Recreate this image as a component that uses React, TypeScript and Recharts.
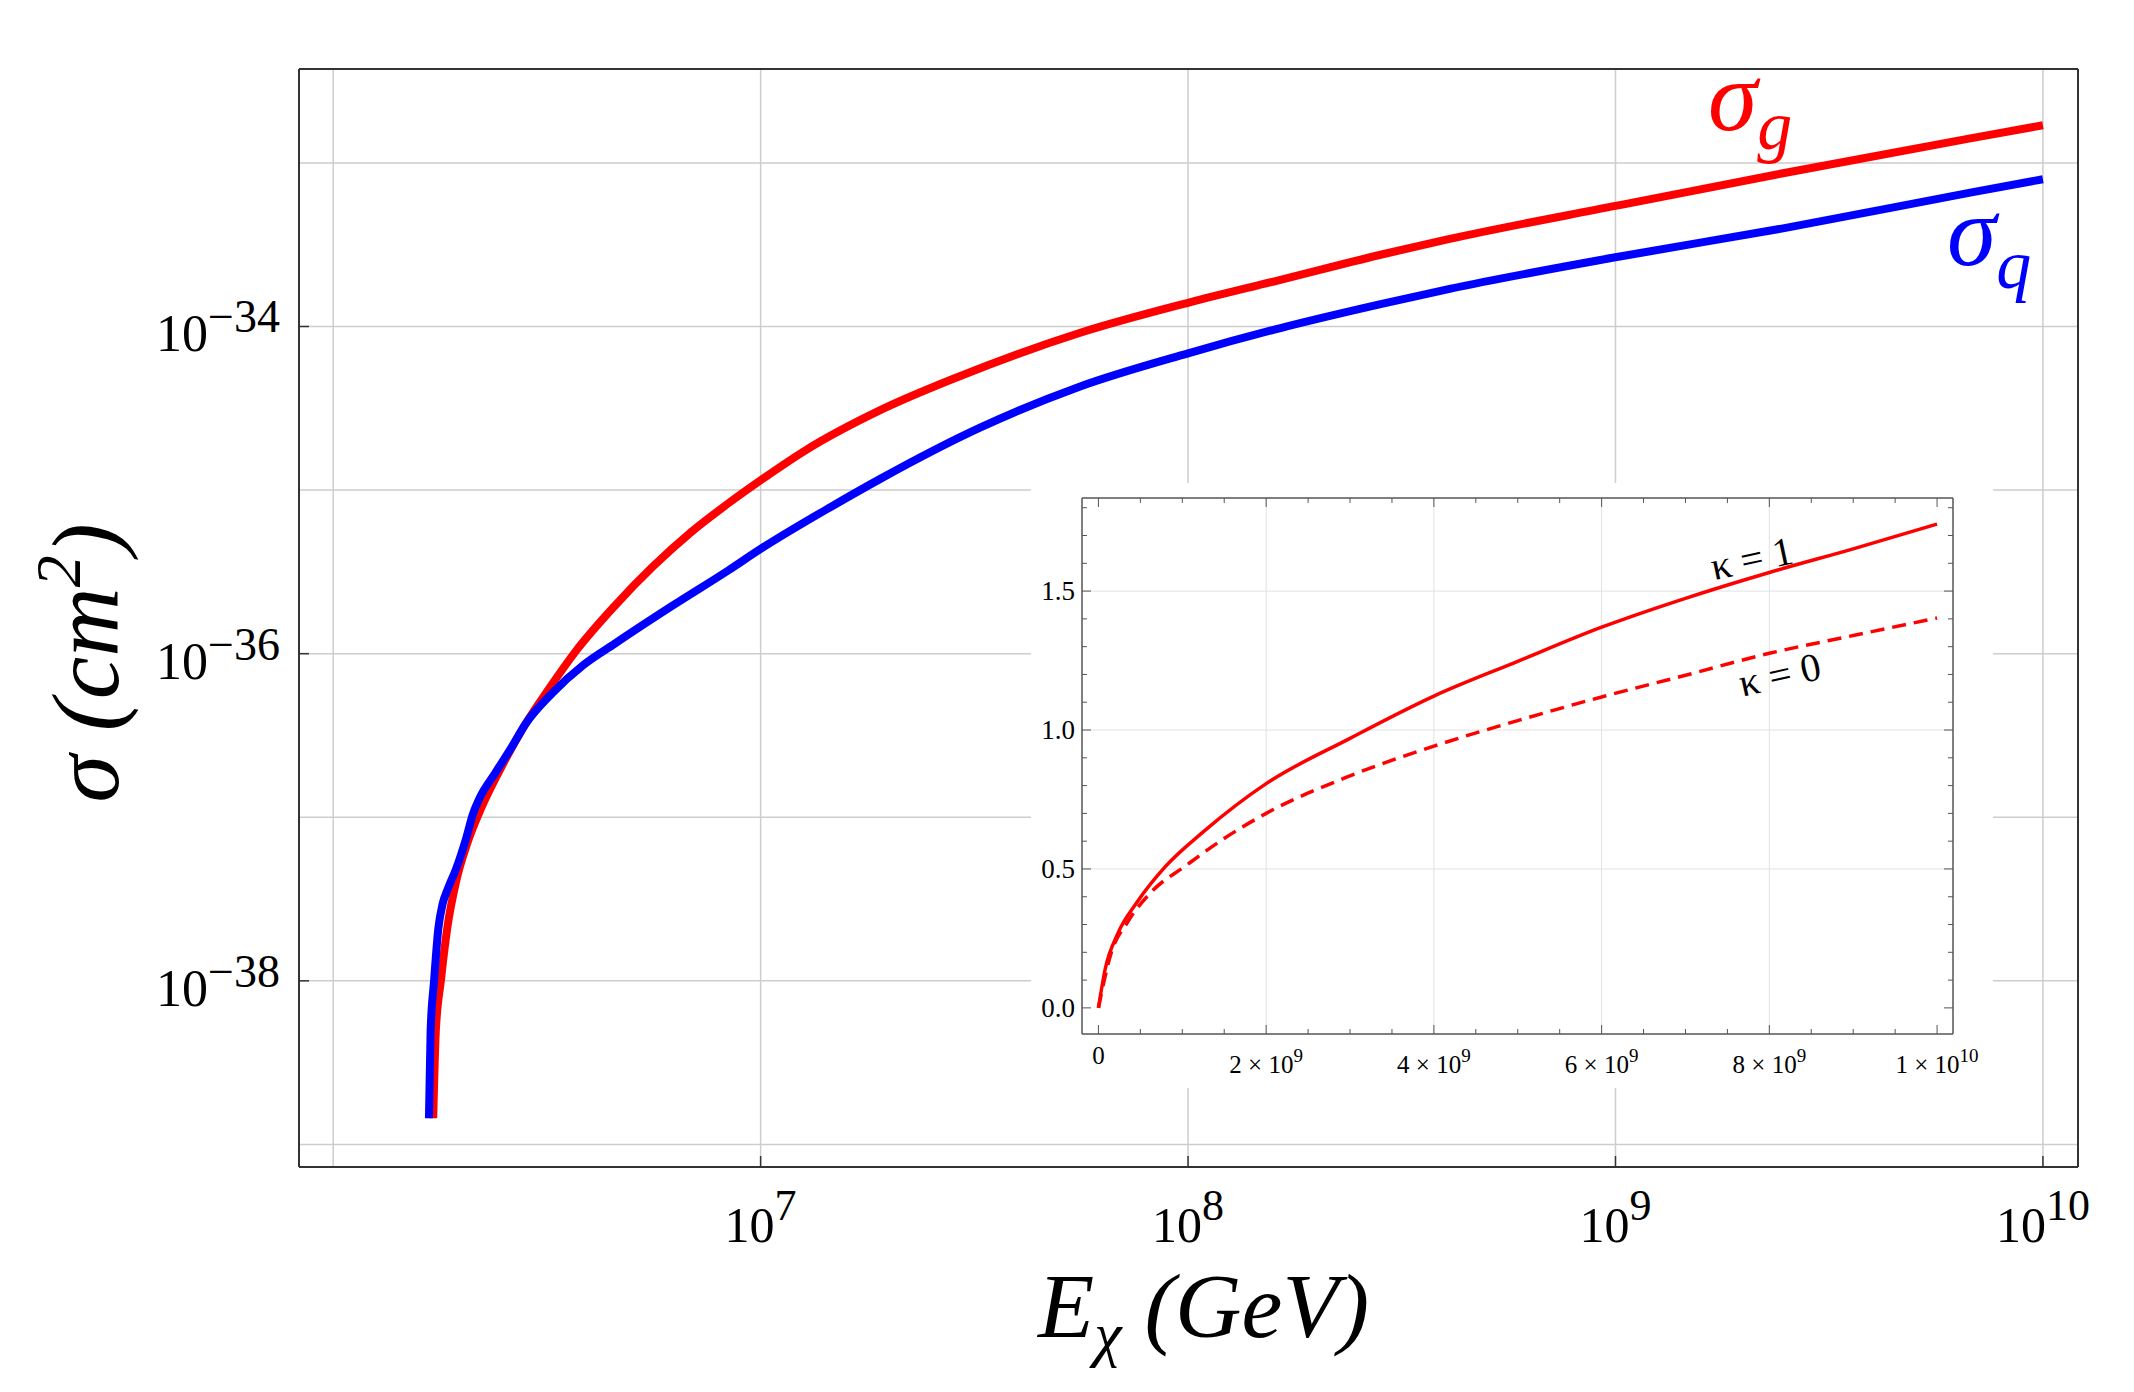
import React from "react";
import { LineChart, Line, XAxis, YAxis, CartesianGrid } from "recharts";

// main panel: sigma(E) for gluon and quark channels, log-log
const gluonE = [
  1.714e6, 1.738e6, 1.786e6, 1.853e6, 1.936e6, 2.065e6, 2.223e6, 2.495e6, 2.818e6, 3.206e6,
  3.707e6, 4.55e6, 5.585e6, 6.855e6, 8.414e6, 1.0e7, 1.268e7, 1.91e7, 2.884e7, 5.572e7,
  1.0e8, 1.637e8, 2.805e8, 4.093e8, 1.0e9, 2.466e9, 6.761e9, 1.0e10,
];
const gluonSigma = [
  1.445e-39, 4.898e-39, 1.0e-38, 2.188e-38, 3.981e-38, 7.079e-38, 1.148e-37, 2.113e-37, 3.715e-37, 6.166e-37,
  1.047e-36, 1.95e-36, 3.388e-36, 5.495e-36, 8.318e-36, 1.148e-35, 1.738e-35, 3.09e-35, 4.898e-35, 9.12e-35,
  1.396e-34, 1.923e-34, 2.735e-34, 3.428e-34, 5.458e-34, 8.65e-34, 1.413e-33, 1.698e-33,
];
const quarkE = [
  1.675e6, 1.69e6, 1.722e6, 1.762e6, 1.803e6, 1.853e6, 1.936e6, 2.046e6, 2.123e6, 2.203e6,
  2.393e6, 2.618e6, 2.818e6, 3.258e6, 3.846e6, 4.55e6, 6.194e6, 8.414e6, 1.0e7, 1.466e7,
  1.91e7, 3.251e7, 5.572e7, 1.0e8, 1.637e8, 2.805e8, 4.093e8, 1.0e9, 2.466e9, 6.761e9, 1.0e10,
];
const quarkSigma = [
  1.445e-39, 4.898e-39, 1.0e-38, 2.089e-38, 2.951e-38, 3.631e-38, 4.786e-38, 7.413e-38, 1.047e-37, 1.318e-37,
  1.862e-37, 2.692e-37, 3.715e-37, 5.754e-37, 8.511e-37, 1.148e-36, 1.95e-36, 3.236e-36, 4.365e-36, 7.943e-36,
  1.175e-35, 2.399e-35, 4.285e-35, 6.855e-35, 9.75e-35, 1.365e-34, 1.698e-34, 2.649e-34, 3.981e-34, 6.577e-34, 7.943e-34,
];

const energyTicks = [1e7, 1e8, 1e9, 1e10];
const energyTickExp = ["7", "8", "9", "10"];
const energyGrid = [1e6, 1e7, 1e8, 1e9, 1e10];
const sigmaTicks = [1e-38, 1e-36, 1e-34];
const sigmaTickExp = ["\u221238", "\u221236", "\u221234"];
const sigmaGrid = [1e-39, 1e-38, 1e-37, 1e-36, 1e-35, 1e-34, 1e-33];
const energyDomain = [8.318e5, 1.208e10];
const sigmaDomain = [7.278e-40, 3.75e-33];

// inset: kappa = 1 (solid) and kappa = 0 (dashed), linear axes
const kappa1E = [0, 8e7, 2.3e8, 4.6e8, 8e8, 1.26e9, 2e9, 3e9, 4e9, 5e9, 6e9, 7e9, 8e9, 9e9, 1e10];
const kappa1R = [0, 0.139, 0.267, 0.38, 0.509, 0.636, 0.807, 0.97, 1.122, 1.247, 1.37, 1.474, 1.567, 1.652, 1.741];
const kappa0E = [0, 1.5e8, 3.5e8, 6.5e8, 1.03e9, 1.49e9, 2e9, 3e9, 4e9, 5e9, 6e9, 7e9, 8e9, 9e9, 1e10];
const kappa0R = [0, 0.196, 0.31, 0.423, 0.509, 0.608, 0.7, 0.835, 0.942, 1.034, 1.119, 1.197, 1.276, 1.34, 1.403];

const insetXMajor = [0, 2e9, 4e9, 6e9, 8e9, 1e10];
const insetXLabels = [["0", ""], ["2 \u00d7 10", "9"], ["4 \u00d7 10", "9"], ["6 \u00d7 10", "9"], ["8 \u00d7 10", "9"], ["1 \u00d7 10", "10"]];
const insetXMinor = [5e8, 1e9, 1.5e9, 2.5e9, 3e9, 3.5e9, 4.5e9, 5e9, 5.5e9, 6.5e9, 7e9, 7.5e9, 8.5e9, 9e9, 9.5e9];
const insetYMajor = [0, 0.5, 1.0, 1.5];
const insetYLabels = ["0.0", "0.5", "1.0", "1.5"];
const insetYMinor = [0.1, 0.2, 0.3, 0.4, 0.6, 0.7, 0.8, 0.9, 1.1, 1.2, 1.3, 1.4, 1.6, 1.7, 1.8];
const insetXGrid = [2e9, 4e9, 6e9, 8e9];
const insetYGrid = [0.5, 1.0, 1.5];
const insetXDomain = [-1.96e8, 1.019e10];
const insetYDomain = [-0.094, 1.835];

const gluon = gluonE.map((e, i) => ({ e, s: gluonSigma[i] }));
const quark = quarkE.map((e, i) => ({ e, s: quarkSigma[i] }));
const kappa1 = kappa1E.map((e, i) => ({ e, r: kappa1R[i] }));
const kappa0 = kappa0E.map((e, i) => ({ e, r: kappa0R[i] }));
const insetXAll = [...insetXMajor, ...insetXMinor].sort((a, b) => a - b);
const insetYAll = [...insetYMajor, ...insetYMinor].sort((a, b) => a - b);

const SERIF = "'Liberation Serif', 'Times New Roman', serif";
const frame = { stroke: "#333", strokeWidth: 2 };
const insetFrame = { stroke: "#555", strokeWidth: 1.5 };

function MainXTick(props: any) {
  const { x, y, payload } = props;
  const exp = energyTickExp[energyTicks.indexOf(payload.value)];
  return (
    <g>
      <line x1={x} x2={x} y1={y} y2={y - 11} stroke="#333" strokeWidth={1.5} />
      <text x={x} y={y + 75} textAnchor="middle" fontFamily={SERIF} fontSize={50} fill="#000">
        10<tspan dy={-22} fontSize={44}>{exp}</tspan>
      </text>
    </g>
  );
}

function MainYTick(props: any) {
  const { x, y, payload } = props;
  const exp = sigmaTickExp[sigmaTicks.indexOf(payload.value)];
  return (
    <g>
      <line x1={x} x2={x + 10} y1={y} y2={y} stroke="#333" strokeWidth={1.5} />
      <text x={x - 19} y={y + 25} textAnchor="end" fontFamily={SERIF} fontSize={52} fill="#000">
        10<tspan dy={-19} fontSize={46}>{exp}</tspan>
      </text>
    </g>
  );
}

function InsetXTick(props: any) {
  const { x, y, payload } = props;
  const i = insetXMajor.indexOf(payload.value);
  const len = i >= 0 ? 9 : 5;
  return (
    <g>
      <line x1={x} x2={x} y1={y} y2={y - len} stroke="#555" strokeWidth={1} />
      {i >= 0 && (
        <text x={x} y={y + (i === 0 ? 30 : 39)} textAnchor="middle" fontFamily={SERIF} fontSize={25} fill="#000">
          {insetXLabels[i][0]}
          {insetXLabels[i][1] && <tspan dy={-11} fontSize={19}>{insetXLabels[i][1]}</tspan>}
        </text>
      )}
    </g>
  );
}

function InsetTopTick(props: any) {
  const { x, y, payload } = props;
  const len = insetXMajor.includes(payload.value) ? 9 : 5;
  return <line x1={x} x2={x} y1={y} y2={y + len} stroke="#555" strokeWidth={1} />;
}

function InsetYTick(props: any) {
  const { x, y, payload } = props;
  const i = insetYMajor.indexOf(payload.value);
  const len = i >= 0 ? 9 : 5;
  return (
    <g>
      <line x1={x} x2={x + len} y1={y} y2={y} stroke="#555" strokeWidth={1} />
      {i >= 0 && (
        <text x={x - 7} y={y + 9} textAnchor="end" fontFamily={SERIF} fontSize={27} fill="#000">
          {insetYLabels[i]}
        </text>
      )}
    </g>
  );
}

function InsetRightTick(props: any) {
  const { x, y, payload } = props;
  const len = insetYMajor.includes(payload.value) ? 9 : 5;
  return <line x1={x} x2={x - len} y1={y} y2={y} stroke="#555" strokeWidth={1} />;
}

function Inset() {
  return (
    <div style={{ position: "absolute", left: 1031, top: 483, width: 962, height: 605, background: "#fff" }}>
      <LineChart width={962} height={605} margin={{ top: 14, right: 39, bottom: 0, left: 0 }}>
        <CartesianGrid stroke="#e2e2e2" strokeWidth={1} horizontalValues={insetYGrid} verticalValues={insetXGrid} />
        <XAxis dataKey="e" type="number" domain={insetXDomain} allowDataOverflow ticks={insetXAll} interval={0}
          height={54} tickSize={0} tickMargin={0} tick={InsetXTick} tickLine={false} axisLine={insetFrame} />
        <XAxis xAxisId="top" dataKey="e" orientation="top" type="number" domain={insetXDomain} allowDataOverflow
          ticks={insetXAll} interval={0} height={1} tickSize={0} tickMargin={0} tick={InsetTopTick} tickLine={false}
          axisLine={insetFrame} />
        <YAxis type="number" domain={insetYDomain} allowDataOverflow ticks={insetYAll} interval={0}
          width={51} tickSize={0} tickMargin={0} tick={InsetYTick} tickLine={false} axisLine={insetFrame} />
        <YAxis yAxisId="right" orientation="right" type="number" domain={insetYDomain} allowDataOverflow
          ticks={insetYAll} interval={0} width={1} tickSize={0} tickMargin={0} tick={InsetRightTick} tickLine={false}
          axisLine={insetFrame} />
        <Line data={kappa1} dataKey="r" type="monotone" stroke="#ff0000" strokeWidth={3.5} dot={false} isAnimationActive={false} />
        <Line data={kappa0} dataKey="r" xAxisId="top" yAxisId="right" type="monotone" stroke="#ff0000" strokeWidth={3.5}
          strokeDasharray="14 8" dot={false} isAnimationActive={false} />
      </LineChart>
    </div>
  );
}

export default function App() {
  return (
    <div style={{ position: "relative", width: 2134, height: 1392, background: "#fff" }}>
      <style>{`body { margin: 0; }`}</style>
      <LineChart width={2134} height={1392} margin={{ top: 68, right: 55, bottom: 0, left: 0 }}>
        <CartesianGrid stroke="#cdcdcd" strokeWidth={1.5} horizontalValues={sigmaGrid} verticalValues={energyGrid} />
        <XAxis dataKey="e" type="number" scale="log" domain={energyDomain} allowDataOverflow ticks={energyTicks}
          interval={0} height={225} tickSize={0} tickMargin={0} tick={MainXTick} tickLine={false} axisLine={frame} />
        <XAxis xAxisId="top" dataKey="e" orientation="top" type="number" scale="log" domain={energyDomain}
          allowDataOverflow ticks={energyTicks} height={1} tick={false} tickLine={false} axisLine={frame} />
        <YAxis type="number" scale="log" domain={sigmaDomain} allowDataOverflow ticks={sigmaTicks} interval={0}
          width={299} tickSize={0} tickMargin={0} tick={MainYTick} tickLine={false} axisLine={frame} />
        <YAxis yAxisId="right" orientation="right" type="number" scale="log" domain={sigmaDomain} allowDataOverflow
          ticks={sigmaTicks} width={1} tick={false} tickLine={false} axisLine={frame} />
        <Line data={gluon} dataKey="s" type="monotone" stroke="#ff0000" strokeWidth={8} strokeLinecap="butt"
          dot={false} isAnimationActive={false} />
        <Line data={quark} dataKey="s" xAxisId="top" yAxisId="right" type="monotone" stroke="#0000ff" strokeWidth={8}
          strokeLinecap="butt" dot={false} isAnimationActive={false} />
        <text x={1038} y={1337} fontFamily={SERIF} fontStyle="italic" fontSize={92} fill="#000">
          E<tspan dy={18} fontSize={62}>{"\u03c7"}</tspan>
          <tspan dy={-18}> (GeV)</tspan>
        </text>
        <text transform="translate(118,663) rotate(-90)" textAnchor="middle" fontFamily={SERIF} fontStyle="italic"
          fontSize={96} fill="#000">
          {"\u03c3 (cm"}
          <tspan dy={-38} fontSize={64}>2</tspan>
          <tspan dy={38}>)</tspan>
        </text>
        <text x={1708} y={130} fontFamily={SERIF} fontStyle="italic" fontSize={100} fill="#ff0000">
          {"\u03c3"}<tspan dy={19} fontSize={70}>g</tspan>
        </text>
        <text x={1947} y={265} fontFamily={SERIF} fontStyle="italic" fontSize={100} fill="#0000ff">
          {"\u03c3"}<tspan dy={23} fontSize={70}>q</tspan>
        </text>
      </LineChart>
      <Inset />
      <svg width={2134} height={1392} style={{ position: "absolute", left: 0, top: 0, pointerEvents: "none" }}>
        <text x={1752} y={572} textAnchor="middle" transform="rotate(-12 1752 560)" fontFamily={SERIF} fontSize={40} fill="#000">
          {"\u03ba = 1"}
        </text>
        <text x={1780} y={688} textAnchor="middle" transform="rotate(-12.5 1780 676)" fontFamily={SERIF} fontSize={40} fill="#000">
          {"\u03ba = 0"}
        </text>
      </svg>
    </div>
  );
}
